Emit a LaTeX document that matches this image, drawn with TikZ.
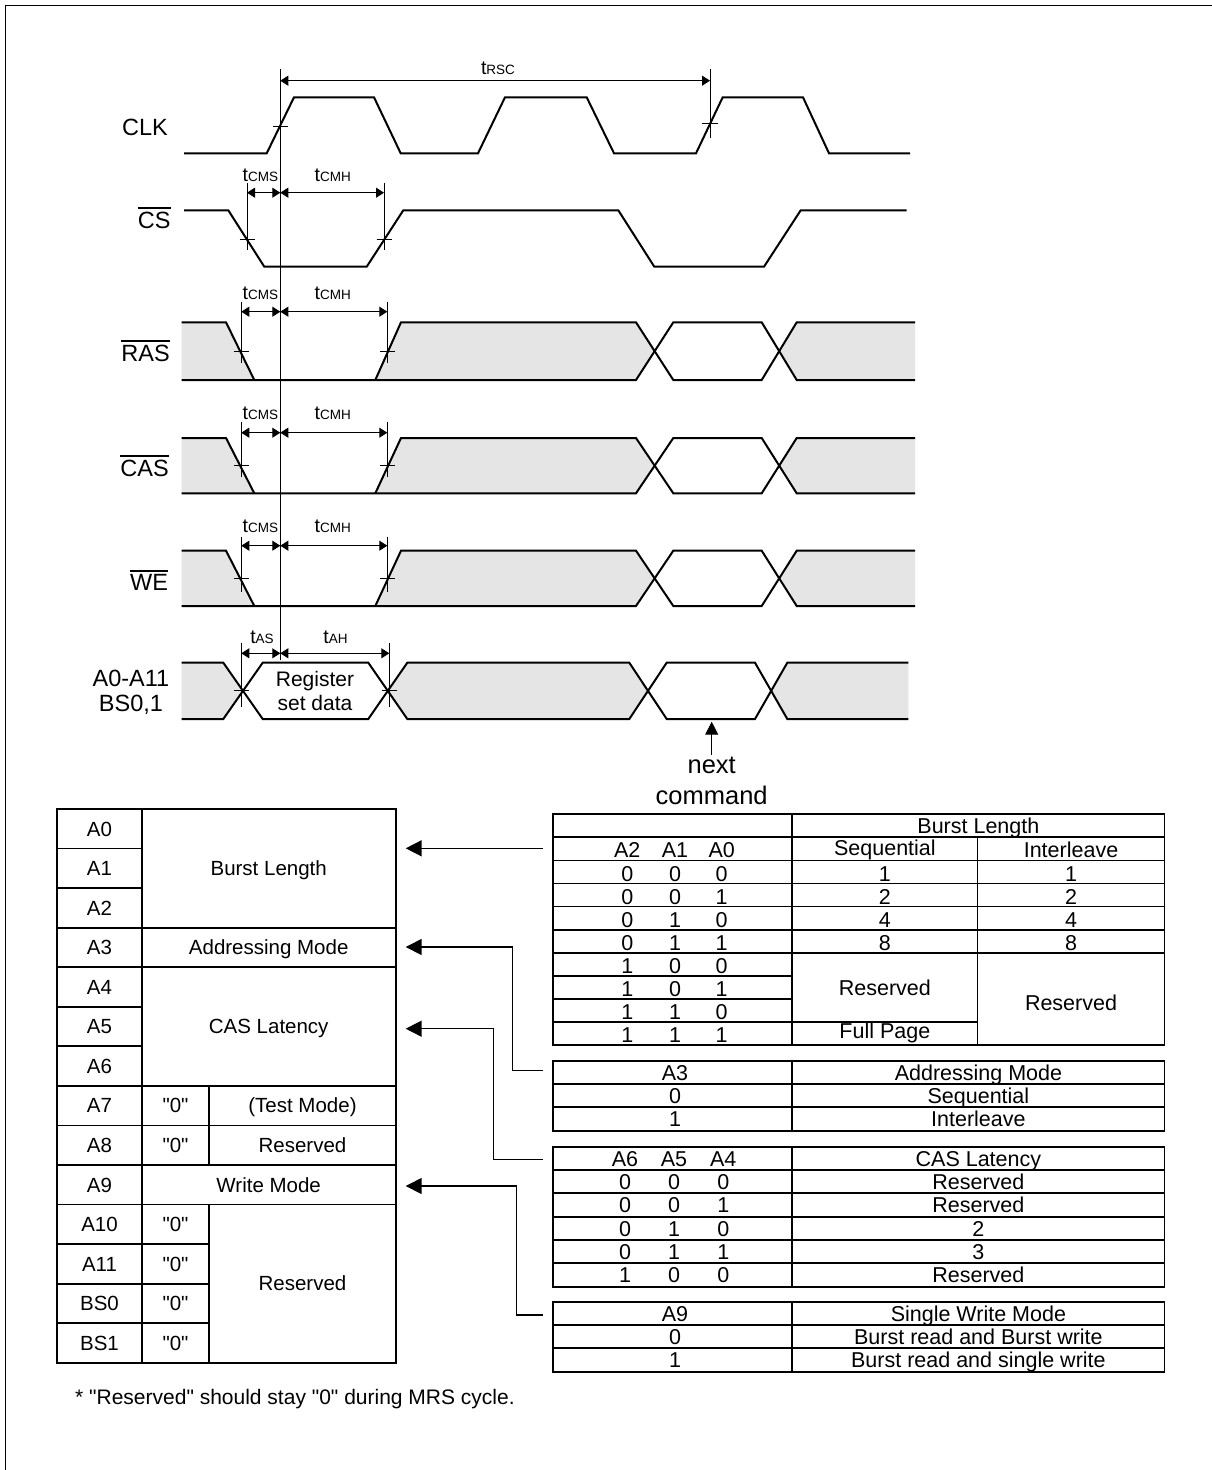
\documentclass[tikz,border=0pt]{standalone}
\usepackage{fontspec}
\setmainfont{Liberation Sans}[Ligatures=TeXOff]
\usetikzlibrary{arrows.meta}
\newcommand\ovlbar[1]{\vbox{\hrule height 1.8pt\kern 3pt\hbox{#1}}}
\newcommand\tsub[1]{{\fontsize{19.5}{19.5}\selectfont t}{\fontsize{13.5}{13.5}\selectfont #1}}
\tikzset{
  sig/.style={line width=2pt},
  gfill/.style={fill=black!10,draw=none},
  thinl/.style={line width=0.9pt},
  dimarr/.style={line width=0.9pt,{Triangle[length=8pt,width=10pt]}-{Triangle[length=8pt,width=10pt]}},
  tbl/.style={line width=1.8pt},
  lbl/.style={inner sep=0pt,font=\fontsize{23.5}{23.5}\selectfont},
  tlab/.style={inner sep=0pt,anchor=base},
  ltx/.style={inner sep=0pt,anchor=base,font=\fontsize{20.5}{20.5}\selectfont},
  rtx/.style={inner sep=0pt,anchor=base,font=\fontsize{21.5}{21.5}\selectfont},
  bigarr/.style={line width=1.5pt,-{Triangle[length=16pt,width=16pt]}},
}
\begin{document}
\begin{tikzpicture}[x=1pt,y=-1pt]
\useasboundingbox (0,0) rectangle (1212,1470);
\fill[white] (0,0) rectangle (1212,1470);
% frame
\draw[line width=1.5pt] (5.5,1470) -- (5.5,5.5) -- (1212,5.5);

% ---------------- signal labels
\node[lbl,anchor=base east] (clk) at (168,135) {CLK};
\node[lbl,anchor=base east] (cs) at (170.7,228.3) {\ovlbar{CS}};
\node[lbl,anchor=base east] (ras) at (170,361) {\ovlbar{RAS}};
\node[lbl,anchor=base east] (cas) at (169,476) {\ovlbar{CAS}};
\node[lbl,anchor=base east] (we) at (168.3,590.7) {\ovlbar{WE}};
\node[lbl,anchor=base] (addr) at (131,686.7) {A0-A11};
\node[lbl,anchor=base] (bs) at (131,711.7) {BS0,1};

% ---------------- CLK
\draw[sig] (184,153.3) -- (266.7,153.3) -- (294,97.3) -- (374,97.3) -- (400.7,153.3) -- (478,153.3) -- (505,97.3) -- (586.7,97.3) -- (614,153.3) -- (696,153.3) -- (722.7,97.3) -- (803,97.3) -- (829,153.3) -- (910,153.3);
\draw[thinl] (273,126) -- (288,126);
\draw[thinl] (702,123) -- (718,123);
\draw[thinl] (710,69) -- (710,138);
\draw[dimarr] (280.3,80.7) -- (710,80.7);
\node[tlab] (trsc) at (498,74) {\tsub{RSC}};

% ---------------- CS
\draw[sig] (184,210.3) -- (228.3,210.3) -- (264.3,266.7) -- (366.7,266.7) -- (403.3,210.3) -- (618.3,210.3) -- (654.3,266.7) -- (764,266.7) -- (800.7,210.3) -- (906.7,210.3);
\draw[thinl] (247,183.3) -- (247,250);
\draw[thinl] (384,183.3) -- (384,250);
\draw[thinl] (239.5,239.3) -- (254.5,239.3);
\draw[thinl] (376.5,239.3) -- (391.5,239.3);
\draw[dimarr] (247,192.7) -- (280.3,192.7);
\draw[dimarr] (280.3,192.7) -- (384,192.7);
\node[tlab] (cs1) at (260.3,181.7) {\tsub{CMS}};
\node[tlab] (cs2) at (332.8,181.7) {\tsub{CMH}};

% ---------------- RAS / CAS / WE
\foreach \T/\B/\D/\L/\V/\W/\n in {322.3/380/311.7/299.3/301.7/363.3/ras, 438/493.3/432.7/419.3/421.7/476.7/cas, 550.7/606/545.7/532.3/536.7/591.7/we}{
  \pgfmathsetmacro\M{(\T+\B)/2}
  \fill[gfill] (181.7,\T) -- (226,\T) -- (254.3,\B) -- (181.7,\B) -- cycle;
  \fill[gfill] (375.3,\B) -- (401,\T) -- (636,\T) -- (654.7,\M) -- (636,\B) -- cycle;
  \fill[gfill] (779.2,\M) -- (796.7,\T) -- (915,\T) -- (915,\B) -- (796.7,\B) -- cycle;
  \draw[sig] (181.7,\B) -- (636,\B) -- (673.3,\T) -- (761.7,\T) -- (796.7,\B) -- (915,\B);
  \draw[sig] (181.7,\T) -- (226,\T) -- (254.3,\B);
  \draw[sig] (375.3,\B) -- (401,\T) -- (636,\T) -- (673.3,\B) -- (761.7,\B) -- (796.7,\T) -- (915,\T);
  \draw[thinl] (241.3,\V) -- (241.3,\W);
  \draw[thinl] (387.3,\V) -- (387.3,\W);
  \draw[thinl] (233.8,\M) -- (248.8,\M);
  \draw[thinl] (379.8,\M) -- (394.8,\M);
  \draw[dimarr] (241.3,\D) -- (280.3,\D);
  \draw[dimarr] (280.3,\D) -- (387.3,\D);
  \node[tlab] (\n s) at (260.3,\L) {\tsub{CMS}};
  \node[tlab] (\n h) at (332.8,\L) {\tsub{CMH}};
}

% ---------------- A0-A11
\fill[gfill] (181.7,662.7) -- (223.3,662.7) -- (243,690.85) -- (223.3,719) -- (181.7,719) -- cycle;
\fill[gfill] (387.8,690.85) -- (407.3,662.7) -- (629.3,662.7) -- (648,690.85) -- (629.3,719) -- (407.3,719) -- cycle;
\fill[gfill] (771.2,690.85) -- (787.3,662.7) -- (908.3,662.7) -- (908.3,719) -- (787.3,719) -- cycle;
\draw[sig] (181.7,662.7) -- (223.3,662.7) -- (262.7,719) -- (368.3,719) -- (407.3,662.7) -- (629.3,662.7) -- (666.7,719) -- (755,719) -- (787.3,662.7) -- (908.3,662.7);
\draw[sig] (181.7,719) -- (223.3,719) -- (262.7,662.7) -- (368.3,662.7) -- (407.3,719) -- (629.3,719) -- (666.7,662.7) -- (755,662.7) -- (787.3,719) -- (908.3,719);
\draw[thinl] (241.3,642.7) -- (241.3,706.7);
\draw[thinl] (389.3,642.7) -- (389.3,706.7);
\draw[thinl] (233.8,690.7) -- (248.8,690.7);
\draw[thinl] (381.8,690.7) -- (396.8,690.7);
\draw[dimarr] (241.3,653.3) -- (280.3,653.3);
\draw[dimarr] (280.3,653.3) -- (389.3,653.3);
\node[tlab] (tas) at (262,643.3) {\tsub{AS}};
\node[tlab] (tah) at (335.5,643.3) {\tsub{AH}};
\node[inner sep=0pt,anchor=base,font=\fontsize{21}{21}\selectfont] (reg1) at (315,686) {Register};
\node[inner sep=0pt,anchor=base,font=\fontsize{21}{21}\selectfont] (reg2) at (315,710.7) {set data};

% reference line
\draw[line width=1.2pt] (280.3,69) -- (280.3,660);

% next command
\node[inner sep=0pt,anchor=base,font=\fontsize{25.5}{25.5}\selectfont] (nxt) at (711.7,773.3) {next};
\node[inner sep=0pt,anchor=base,font=\fontsize{25.5}{25.5}\selectfont] (cmd) at (711.7,804) {command};
\coordinate (ncfrom) at (711.7,755);
\coordinate (ncto) at (711.7,721.7);
\draw[line width=1pt,-{Triangle[length=13pt,width=13pt]}] (ncfrom) -- (ncto);

% ---------------- left register table
\draw[tbl] (57.3,809) rectangle (395.7,1362.7);
\draw[tbl] (141.7,809) -- (141.7,1362.7);
\foreach \i in {1,...,13} \draw[tbl] (57.3,{809+\i*39.55}) -- (141.7,{809+\i*39.55});
\foreach \i in {3,4,7,8,9,10} \draw[tbl] (141.7,{809+\i*39.55}) -- (395.7,{809+\i*39.55});
\foreach \i in {11,12,13} \draw[tbl] (141.7,{809+\i*39.55}) -- (209.3,{809+\i*39.55});
\draw[tbl] (209.3,{809+7*39.55}) -- (209.3,{809+9*39.55});
\draw[tbl] (209.3,{809+10*39.55}) -- (209.3,1362.7);
\foreach \t [count=\i from 0] in {A0,A1,A2,A3,A4,A5,A6,A7,A8,A9,A10,A11,BS0,BS1}
  \node[ltx] (la\i) at (99.5,{809+(\i+0.5)*39.55+7.3}) {\t};
\foreach \i in {7,8,10,11,12,13}
  \node[ltx] (lz\i) at (175.5,{809+(\i+0.5)*39.55+7.3}) {"0"};
\node[ltx] (lburst) at (268.7,{809+1.5*39.55+7.3}) {Burst Length};
\node[ltx] (laddr) at (268.7,{809+3.5*39.55+7.3}) {Addressing Mode};
\node[ltx] (lcas) at (268.7,{809+5.5*39.55+7.3}) {CAS Latency};
\node[ltx] (ltest) at (302.5,{809+7.5*39.55+7.3}) {(Test Mode)};
\node[ltx] (lres8) at (302.5,{809+8.5*39.55+7.3}) {Reserved};
\node[ltx] (lwm) at (268.7,{809+9.5*39.55+7.3}) {Write Mode};
\node[ltx] (lres) at (302.5,{809+12*39.55+7.3}) {Reserved};

% ---------------- connectors
\coordinate (s1) at (542.7,848.3); \coordinate (t1) at (405.7,848.3);
\coordinate (s2) at (542.7,1070.7); \coordinate (t2) at (405.7,947);
\coordinate (s3) at (542.7,1159.3); \coordinate (t3) at (405.7,1028.7);
\coordinate (s4) at (542.7,1315); \coordinate (t4) at (405.7,1186);
\draw[bigarr] (s1) -- (t1);
\draw[bigarr] (s2) -- (512.7,1070.7) -- (512.7,947) -- (t2);
\draw[bigarr] (s3) -- (493.3,1159.3) -- (493.3,1028.7) -- (t3);
\draw[bigarr] (s4) -- (516.7,1315) -- (516.7,1186) -- (t4);

% ---------------- Burst length table
\draw[tbl] (553.3,814.3) rectangle (1164.5,1045);
\draw[tbl] (792.3,814.3) -- (792.3,1045);
\foreach \i in {1,...,9} \draw[tbl] (553.3,{814.3+\i*23.07}) -- (792.3,{814.3+\i*23.07});
\foreach \i in {1,...,6} \draw[tbl] (792.3,{814.3+\i*23.07}) -- (1164.5,{814.3+\i*23.07});
\draw[tbl] (792.3,{814.3+9*23.07}) -- (977.5,{814.3+9*23.07});
\draw[tbl] (977.5,{814.3+23.07}) -- (977.5,1045);
\node[rtx] (bh) at (978.4,{814.3+23.07-3.5}) {Burst Length};
\node[rtx] (ba2) at (627.3,{814.3+2*23.07-2.5}) {A2};
\node[rtx] (ba1) at (675,{814.3+2*23.07-2.5}) {A1};
\node[rtx] (ba0) at (721.7,{814.3+2*23.07-2.5}) {A0};
\node[rtx] (bseq) at (884.9,{814.3+2*23.07-4.5}) {Sequential};
\node[rtx] (bint) at (1071,{814.3+2*23.07-3}) {Interleave};
\foreach \a/\b/\c [count=\r from 2] in {0/0/0,0/0/1,0/1/0,0/1/1,1/0/0,1/0/1,1/1/0,1/1/1}{
  \node[rtx] (bd\r a) at (627.3,{814.3+(\r+1)*23.07-2.5}) {\a};
  \node[rtx] (bd\r b) at (675,{814.3+(\r+1)*23.07-2.5}) {\b};
  \node[rtx] (bd\r c) at (721.7,{814.3+(\r+1)*23.07-2.5}) {\c};
}
\foreach \v [count=\r from 2] in {1,2,4,8}{
  \node[rtx] (bs\r) at (884.9,{814.3+(\r+1)*23.07-2.5}) {\v};
  \node[rtx] (bi\r) at (1071,{814.3+(\r+1)*23.07-2.5}) {\v};
}
\node[rtx] (bres1) at (884.9,995) {Reserved};
\node[rtx] (bres2) at (1071,1010) {Reserved};
\node[rtx] (bfull) at (884.9,1038.3) {Full Page};

% ---------------- Addressing mode table
\draw[tbl] (553.3,1060.7) rectangle (1164.5,1130.7);
\draw[tbl] (792.3,1060.7) -- (792.3,1130.7);
\foreach \y in {1084,1107.3} \draw[tbl] (553.3,\y) -- (1164.5,\y);
\foreach \l/\r/\y [count=\k] in {A3/Addressing Mode/1084, 0/Sequential/1107.3, 1/Interleave/1130.7}{
  \node[rtx] (am\k l) at (675,\y-4) {\l};
  \node[rtx] (am\k r) at (978.4,\y-4) {\r};
}

% ---------------- CAS latency table
\draw[tbl] (553.3,1146.7) rectangle (1164.5,1286.7);
\draw[tbl] (792.3,1146.7) -- (792.3,1286.7);
\foreach \y in {1170,1193.3,1216.7,1240,1263.3} \draw[tbl] (553.3,\y) -- (1164.5,\y);
\foreach \a/\b/\c/\r/\y [count=\k] in {A6/A5/A4/CAS Latency/1170, 0/0/0/Reserved/1193.3, 0/0/1/Reserved/1216.7, 0/1/0/2/1240, 0/1/1/3/1263.3, 1/0/0/Reserved/1286.7}{
  \node[rtx] (cl\k a) at (625,\y-4) {\a};
  \node[rtx] (cl\k b) at (674,\y-4) {\b};
  \node[rtx] (cl\k c) at (723.3,\y-4) {\c};
  \node[rtx] (cl\k r) at (978.4,\y-4) {\r};
}

% ---------------- Write mode table
\draw[tbl] (553.3,1301.7) rectangle (1164.5,1371.7);
\draw[tbl] (792.3,1301.7) -- (792.3,1371.7);
\foreach \y in {1325,1348.3} \draw[tbl] (553.3,\y) -- (1164.5,\y);
\foreach \l/\r/\y [count=\k] in {A9/Single Write Mode/1325, 0/Burst read and Burst write/1348.3, 1/Burst read and single write/1371.7}{
  \node[rtx] (wm\k l) at (675,\y-4) {\l};
  \node[rtx] (wm\k r) at (978.4,\y-4) {\r};
}

% ---------------- footnote
\node[inner sep=0pt,anchor=base west,font=\fontsize{21}{21}\selectfont] (foot) at (75,1404) {* "Reserved" should stay "0" during MRS cycle.};
\end{tikzpicture}
\end{document}
